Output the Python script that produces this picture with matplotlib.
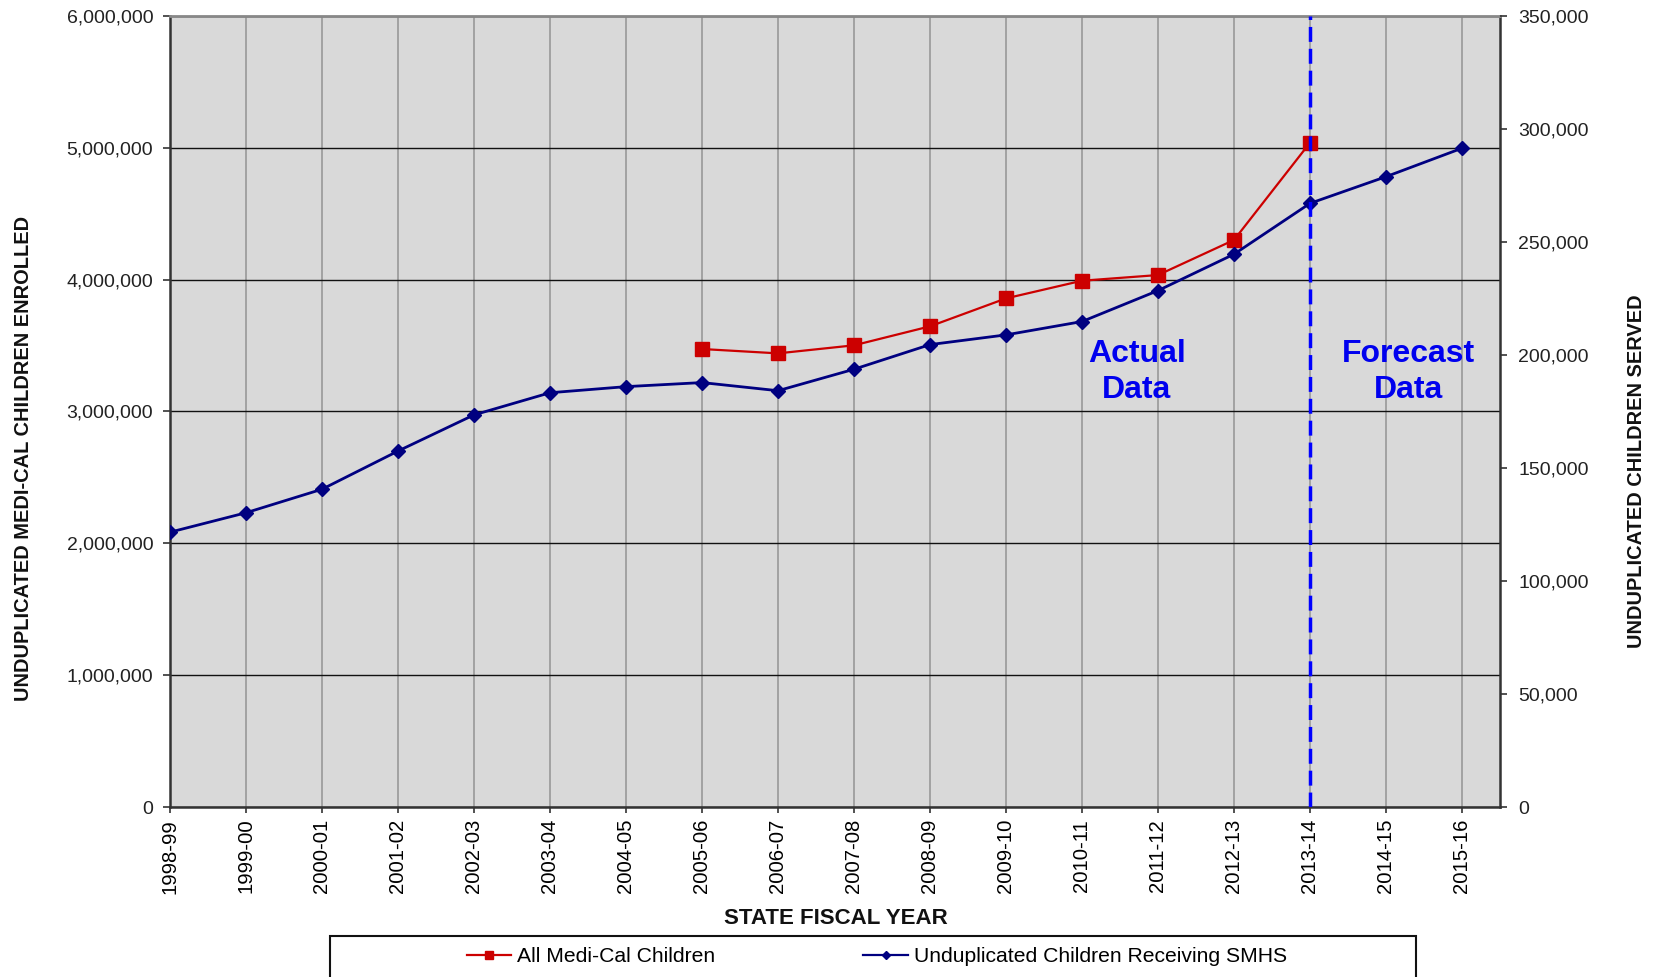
import matplotlib
matplotlib.use("Agg")
import matplotlib.pyplot as plt
from matplotlib.lines import Line2D
from matplotlib.patches import Rectangle
from matplotlib.ticker import FuncFormatter

# ---- data ----
years = ["1998-99", "1999-00", "2000-01", "2001-02", "2002-03", "2003-04",
         "2004-05", "2005-06", "2006-07", "2007-08", "2008-09", "2009-10",
         "2010-11", "2011-12", "2012-13", "2013-14", "2014-15", "2015-16"]
medi_cal_years = ["2005-06", "2006-07", "2007-08", "2008-09", "2009-10",
                  "2010-11", "2011-12", "2012-13", "2013-14"]
medi_cal_children = [3474000, 3441000, 3502000, 3646000, 3858000,
                     3992000, 4035000, 4301000, 5039000]
smhs_children = [121600, 130200, 140600, 157500, 173500, 183300,
                 186000, 187800, 184200, 193700, 204600, 208900,
                 214800, 228500, 244600, 267100, 278900, 291500]
forecast_start = "2013-14"
left_ticks = [0, 1000000, 2000000, 3000000, 4000000, 5000000, 6000000]
right_ticks = [0, 50000, 100000, 150000, 200000, 250000, 300000, 350000]

REG = ["Liberation Sans", "DejaVu Sans"]

W, H = 1656, 977
fig = plt.figure(figsize=(W / 100, H / 100), dpi=100)
L, R, T, B = 170, 1500, 16, 807
ax = fig.add_axes([L / W, 1 - B / H, (R - L) / W, (B - T) / H])
ax.set_facecolor("#d9d9d9")

xi = list(range(len(years)))
red_x = [years.index(y) for y in medi_cal_years]

ax.set_xlim(0, len(years) - 0.5)
ax.set_ylim(0, 6000000)
ax.set_yticks(left_ticks)
ax.yaxis.set_major_formatter(FuncFormatter(lambda v, p: f"{v:,.0f}"))
ax.set_xticks(xi)
ax.set_xticklabels(years, rotation=90, family=REG, fontsize=14.6)
for lab in ax.get_yticklabels():
    lab.set_family(REG)
    lab.set_fontsize(14)

ax.grid(axis="x", color="#999999", lw=1.2, zorder=0)
ax.grid(axis="y", color="#111111", lw=1.0, zorder=0)
ax.set_axisbelow(True)

ax.plot(red_x, medi_cal_children, color="#cc0000", lw=1.6, marker="s",
        ms=10, mec="#cc0000", mfc="#cc0000", zorder=3)

for s in ["left", "bottom"]:
    ax.spines[s].set_color("#333333")
    ax.spines[s].set_linewidth(1.8)
ax.spines["top"].set_color("#888888")
ax.spines["top"].set_linewidth(2.0)
ax.spines["right"].set_color("#333333")
ax.spines["right"].set_linewidth(1.8)
ax.tick_params(axis="y", length=5, width=1.2, pad=7, colors="#333333", labelcolor="#222222")
ax.tick_params(axis="x", length=4.5, width=1.2, pad=4, colors="#333333", labelcolor="#000000")

ax2 = ax.twinx()
ax2.set_ylim(0, 350000)
ax2.set_yticks(right_ticks)
ax2.yaxis.set_major_formatter(FuncFormatter(lambda v, p: f"{v:,.0f}"))
for lab in ax2.get_yticklabels():
    lab.set_family(REG)
    lab.set_fontsize(14)
ax2.tick_params(axis="y", length=5, width=1.2, pad=8, colors="#333333", labelcolor="#222222")
for s in ax2.spines.values():
    s.set_visible(False)

ax2.plot(xi, smhs_children, color="#000080", lw=2.0, marker="D", ms=7,
         mec="#000080", mfc="#000080", zorder=3)
ax2.axvline(years.index(forecast_start), color="#0000ff", lw=2.5,
            dashes=(4.3, 2.0), zorder=5)

ax.text(12.72, 3300000, "Actual\nData", ha="center", va="center",
        color="#0000ee", fontsize=23, fontweight="bold", family=REG,
        linespacing=1.25, zorder=6)
ax.text(16.29, 3300000, "Forecast\nData", ha="center", va="center",
        color="#0000ee", fontsize=23, fontweight="bold", family=REG,
        linespacing=1.25, zorder=6)

fig.text(24 / W, 1 - 458 / H, "UNDUPLICATED MEDI-CAL CHILDREN ENROLLED",
         rotation=90, ha="center", va="center", fontsize=14.4,
         fontweight="bold", family=REG, color="#111111")
fig.text(1637 / W, 1 - 471 / H, "UNDUPLICATED CHILDREN SERVED",
         rotation=90, ha="center", va="center", fontsize=14.4,
         fontweight="bold", family=REG, color="#111111")
fig.text(836 / W, 1 - 918 / H, "STATE FISCAL YEAR", ha="center", va="center",
         fontsize=16, fontweight="bold", family=REG, color="#111111")

handles = [Line2D([], [], color="#cc0000", lw=1.6, marker="s", ms=6),
           Line2D([], [], color="#000080", lw=1.6, marker="D", ms=4)]
leg = fig.legend(handles, ["All Medi-Cal Children", "Unduplicated Children Receiving SMHS"],
                 loc="center", bbox_to_anchor=(877 / W, 1 - 957 / H), ncol=2,
                 frameon=False, handlelength=2.1, handletextpad=0.3,
                 columnspacing=7.0, prop={"family": REG, "size": 15.2})
fig.patches.append(Rectangle((330 / W, -0.05), (1416 - 330) / W, (977 - 936) / H + 0.05,
                             transform=fig.transFigure, fill=False, lw=1.5,
                             ec="#111111", figure=fig))

fig.savefig("out.png", dpi=100, facecolor="white")
